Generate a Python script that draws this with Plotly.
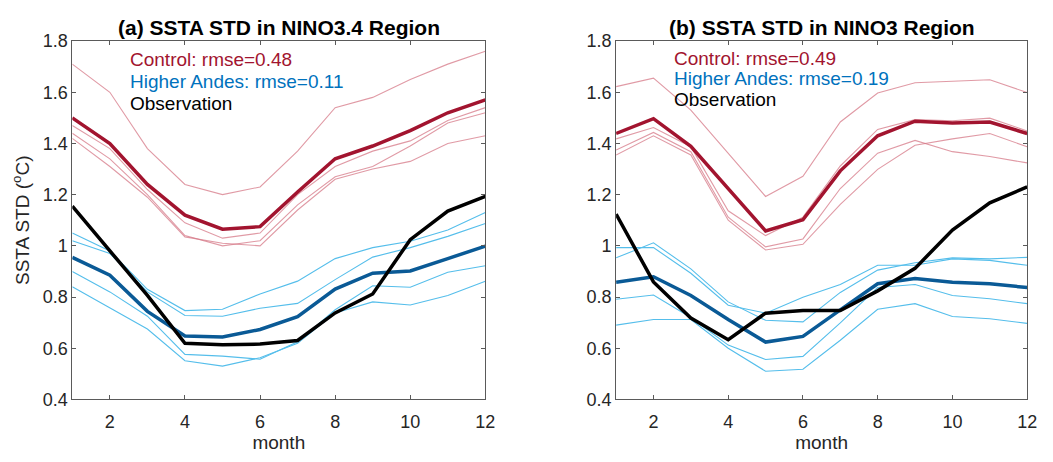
import plotly.graph_objects as go

months = list(range(1, 13))

# Panel (a) NINO3.4
a_ctrl_mean = [1.50, 1.40, 1.24, 1.12, 1.065, 1.075, 1.21, 1.34, 1.39, 1.45, 1.52, 1.57]
a_ctrl_members = [
    [1.71, 1.60, 1.38, 1.24, 1.20, 1.23, 1.37, 1.54, 1.58, 1.65, 1.71, 1.76],
    [1.47, 1.38, 1.22, 1.09, 1.03, 1.05, 1.20, 1.31, 1.37, 1.41, 1.49, 1.54],
    [1.44, 1.34, 1.20, 1.04, 1.00, 1.02, 1.16, 1.27, 1.31, 1.39, 1.48, 1.52],
    [1.42, 1.31, 1.19, 1.035, 1.01, 1.00, 1.14, 1.26, 1.30, 1.33, 1.40, 1.43],
]
a_andes_mean = [0.955, 0.885, 0.744, 0.648, 0.644, 0.673, 0.723, 0.831, 0.893, 0.902, 0.95, 0.999]
a_andes_members = [
    [1.05, 0.98, 0.83, 0.747, 0.752, 0.812, 0.862, 0.95, 0.993, 1.018, 1.062, 1.13],
    [1.02, 0.97, 0.82, 0.728, 0.725, 0.756, 0.775, 0.868, 0.956, 0.993, 1.037, 1.087],
    [0.90, 0.82, 0.725, 0.576, 0.569, 0.557, 0.625, 0.75, 0.844, 0.838, 0.897, 0.922],
    [0.84, 0.756, 0.675, 0.551, 0.53, 0.563, 0.619, 0.738, 0.781, 0.769, 0.806, 0.862],
]
a_obs = [1.155, 0.98, 0.806, 0.619, 0.613, 0.616, 0.63, 0.738, 0.812, 1.024, 1.136, 1.193]

# Panel (b) NINO3
b_ctrl_mean = [1.439, 1.497, 1.389, 1.224, 1.058, 1.102, 1.293, 1.43, 1.487, 1.48, 1.484, 1.439]
b_ctrl_members = [
    [1.622, 1.655, 1.53, 1.362, 1.193, 1.272, 1.484, 1.597, 1.637, 1.643, 1.649, 1.599],
    [1.418, 1.462, 1.387, 1.137, 1.04, 1.112, 1.312, 1.455, 1.493, 1.489, 1.499, 1.449],
    [1.374, 1.443, 1.368, 1.112, 0.996, 1.027, 1.224, 1.362, 1.412, 1.368, 1.349, 1.324],
    [1.355, 1.43, 1.355, 1.10, 0.984, 1.006, 1.162, 1.299, 1.393, 1.418, 1.439, 1.387],
]
b_andes_mean = [0.858, 0.879, 0.806, 0.712, 0.624, 0.646, 0.75, 0.852, 0.872, 0.858, 0.852, 0.837]
b_andes_members = [
    [0.953, 1.012, 0.91, 0.781, 0.709, 0.703, 0.818, 0.905, 0.934, 0.953, 0.949, 0.955],
    [0.993, 0.993, 0.893, 0.768, 0.737, 0.799, 0.849, 0.924, 0.924, 0.949, 0.943, 0.924],
    [0.791, 0.808, 0.72, 0.612, 0.556, 0.568, 0.699, 0.837, 0.849, 0.806, 0.793, 0.774],
    [0.69, 0.712, 0.712, 0.6, 0.51, 0.518, 0.631, 0.752, 0.774, 0.724, 0.715, 0.697],
]
b_obs = [1.124, 0.859, 0.718, 0.633, 0.737, 0.747, 0.747, 0.824, 0.912, 1.062, 1.168, 1.23]

titles = ["(a) SSTA STD in NINO3.4 Region", "(b) SSTA STD in NINO3 Region"]
legend_ctrl = ["Control: rmse=0.48", "Control: rmse=0.49"]
legend_andes = ["Higher Andes: rmse=0.11", "Higher Andes: rmse=0.19"]
legend_obs = "Observation"
x_ticks = [2, 4, 6, 8, 10, 12]
y_ticks = [0.4, 0.6, 0.8, 1.0, 1.2, 1.4, 1.6, 1.8]
y_ticktext = ["0.4", "0.6", "0.8", "1", "1.2", "1.4", "1.6", "1.8"]

W, H = 1053, 462
def px(x):
    return x / W
def py(y):
    return 1 - y / H

RED = "rgb(162,20,47)"
RED_THIN = "rgba(214,120,135,0.75)"
BLUE = "rgb(10,90,150)"
BLUE_THIN = "rgb(85,190,235)"
TXT_BLUE = "rgb(0,114,189)"
FONT = "Liberation Sans, Arial, sans-serif"
GRAY = "rgb(38,38,38)"
AXGRAY = "rgb(90,90,90)"

fig = go.Figure()

panels = [
    (a_ctrl_mean, a_ctrl_members, a_andes_mean, a_andes_members, a_obs, "x", "y"),
    (b_ctrl_mean, b_ctrl_members, b_andes_mean, b_andes_members, b_obs, "x2", "y2"),
]
for cm, cmem, am, amem, obs, xa, ya in panels:
    for m in cmem:
        fig.add_trace(go.Scatter(x=months, y=m, mode="lines", line=dict(color=RED_THIN, width=1.1),
                                 xaxis=xa, yaxis=ya, showlegend=False, hoverinfo="skip"))
    for m in amem:
        fig.add_trace(go.Scatter(x=months, y=m, mode="lines", line=dict(color=BLUE_THIN, width=1.1),
                                 xaxis=xa, yaxis=ya, showlegend=False, hoverinfo="skip"))
    fig.add_trace(go.Scatter(x=months, y=cm, mode="lines", line=dict(color=RED, width=3.5),
                             xaxis=xa, yaxis=ya, showlegend=False))
    fig.add_trace(go.Scatter(x=months, y=am, mode="lines", line=dict(color=BLUE, width=3.5),
                             xaxis=xa, yaxis=ya, showlegend=False))
    fig.add_trace(go.Scatter(x=months, y=obs, mode="lines", line=dict(color="black", width=3.5),
                             xaxis=xa, yaxis=ya, showlegend=False))

axis_common = dict(showgrid=False, zeroline=False, showline=True, linecolor=AXGRAY, linewidth=1,
                   mirror="ticks", ticks="inside", ticklen=4, tickcolor=AXGRAY,
                   tickfont=dict(family=FONT, size=18, color=GRAY))

title_font = dict(family=FONT, size=19, color=GRAY)
fig.update_layout(
    width=W, height=H,
    margin=dict(l=0, r=0, t=0, b=0),
    paper_bgcolor="white", plot_bgcolor="white",
    xaxis=dict(domain=[px(73), px(490)], range=[1, 12], tickvals=x_ticks, anchor="y", ticklabelstandoff=6,
               title=dict(text="month", font=title_font, standoff=2), **axis_common),
    yaxis=dict(domain=[py(407), py(32.5)], range=[0.4, 1.8], tickvals=y_ticks, ticktext=y_ticktext, anchor="x",
               title=dict(text="SSTA STD (<sup>o</sup>C)", font=title_font, standoff=8),
               **axis_common),
    xaxis2=dict(domain=[px(622), px(1037)], range=[1, 12], tickvals=x_ticks, anchor="y2", ticklabelstandoff=6,
                title=dict(text="month", font=title_font, standoff=2), **axis_common),
    yaxis2=dict(domain=[py(407), py(32.5)], range=[0.4, 1.8], tickvals=y_ticks, ticktext=y_ticktext, anchor="x2",
                **axis_common),
)

centers = [(73 + 490) / 2, (622 + 1037) / 2]
text_left = [129, 678]
rows = [[52, 75, 98], [51, 72, 94]]
for i in range(2):
    fig.add_annotation(x=px(centers[i]), y=py(18), xref="paper", yref="paper", text="<b>" + titles[i] + "</b>",
                       showarrow=False, font=dict(family=FONT, size=21, color="black"), xanchor="center", yanchor="middle")
    for txt, col, yy in [(legend_ctrl[i], RED, rows[i][0]), (legend_andes[i], TXT_BLUE, rows[i][1]),
                         (legend_obs, "black", rows[i][2])]:
        fig.add_annotation(x=px(text_left[i]), y=py(yy), xref="paper", yref="paper", text=txt,
                           showarrow=False, font=dict(family=FONT, size=19, color=col),
                           xanchor="left", yanchor="middle")

fig.write_html("out.html")
